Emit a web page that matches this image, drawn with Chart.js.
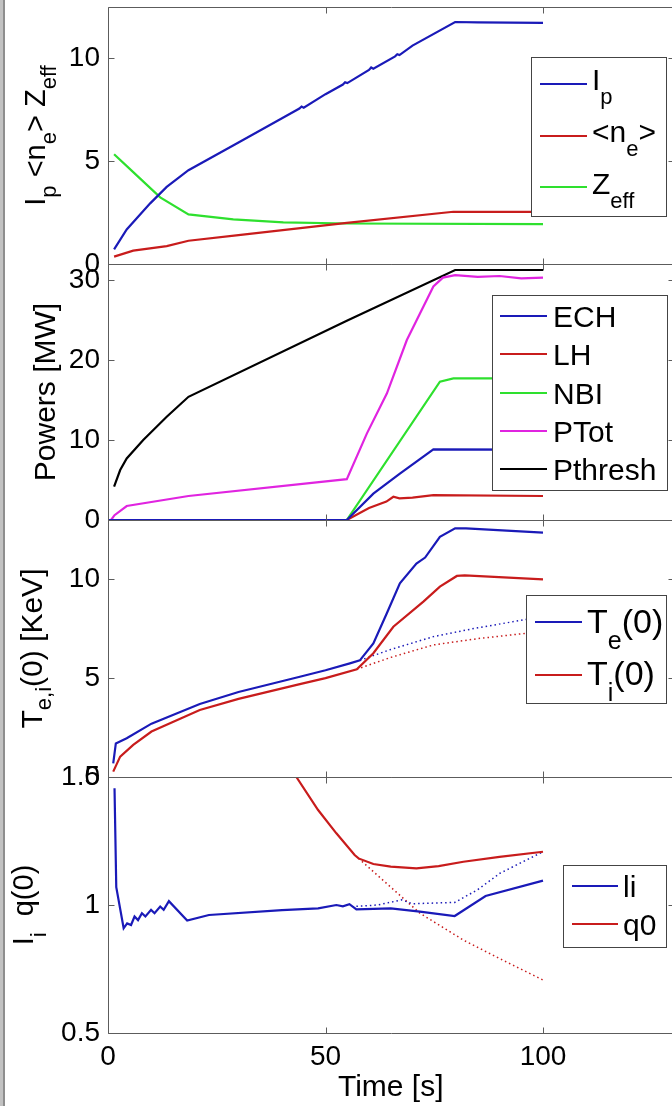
<!DOCTYPE html>
<html>
<head>
<meta charset="utf-8">
<script src="https://cdn.jsdelivr.net/npm/chart.js@4"></script>
<style>
  html, body { margin: 0; padding: 0; background: #fff; overflow: hidden; width: 672px; height: 1106px; }
  canvas { position: absolute; left: 0; top: 0; }
  #frame { position: absolute; left: 0; top: 0; width: 3px; height: 1106px; background: #c2c2c2; border-right: 2px solid #8e8e8e; z-index: 5; }
</style>
</head>
<body>
<div id="frame"></div>
<canvas id="p1" width="680" height="1106"></canvas>
<canvas id="p2" width="680" height="1106"></canvas>
<canvas id="p3" width="680" height="1106"></canvas>
<canvas id="p4" width="680" height="1106"></canvas>
<script>
// ---- data (time in s) ----
// panel 1: Ip, <ne>, Zeff
const ipT = [1.4, 4.3, 9.7, 13.5, 18.5, 30, 40, 44, 44.5, 45, 50, 54, 54.5, 55, 60, 60.5, 61, 66, 66.5, 67, 70, 79.8, 85, 100];
const ipV = [0.71, 1.68, 2.95, 3.75, 4.56, 5.91, 7.09, 7.56, 7.66, 7.6, 8.26, 8.73, 8.84, 8.8, 9.44, 9.56, 9.5, 10.1, 10.2, 10.16, 10.62, 11.77, 11.75, 11.73];
const neT = [1.4, 5.8, 13.5, 18.5, 30, 54.9, 79.4, 100];
const neV = [0.36, 0.65, 0.87, 1.13, 1.4, 2.0, 2.54, 2.54];
const zeffT = [1.4, 5.8, 12, 18.5, 28.8, 40.3, 54.9, 100];
const zeffV = [5.34, 4.47, 3.24, 2.41, 2.17, 2.02, 1.97, 1.94];

// panel 2: powers [MW]
const echT = [0, 54.9, 61, 67.1, 74.8, 100];
const echV = [0, 0, 3.3, 5.8, 8.83, 8.8];
const lhT = [0, 54.9, 60, 64, 65.6, 67, 70, 74.8, 100];
const lhV = [0, 0, 1.5, 2.3, 2.9, 2.7, 2.8, 3.1, 3.0];
const nbiT = [0, 54.9, 76.3, 79.4, 100];
const nbiV = [0, 0, 17.3, 17.7, 17.7];
const ptotT = [0.7, 1.5, 4.3, 18.5, 54.9, 59.5, 64.1, 68.7, 74.8, 77, 79.8, 85, 90, 95, 100];
const ptotV = [0, 0.6, 1.75, 3.0, 5.1, 10.8, 15.8, 22.5, 29.2, 30.3, 30.6, 30.4, 30.5, 30.2, 30.3];
const pthT = [1.4, 2.8, 4.3, 8.1, 13.5, 18.5, 54.9, 79.8, 100];
const pthV = [4.17, 6.25, 7.7, 10.0, 12.9, 15.4, 24.9, 31.25, 31.25];

// panel 3: Te(0), Ti(0) [keV], dotted = reference run
const teT = [1.2, 1.8, 4.3, 10, 21.1, 30, 44.1, 50, 55.6, 57.9, 61, 64.1, 67.1, 70.9, 72.9, 76.3, 79.8, 82.3, 100];
const teV = [0.69, 1.7, 1.96, 2.7, 3.69, 4.3, 5.07, 5.4, 5.75, 5.9, 6.76, 8.28, 9.8, 10.8, 11.1, 12.15, 12.58, 12.58, 12.36];
const tiT = [1.2, 2.8, 5.8, 10, 21.1, 30, 44.1, 50, 57.2, 61, 65.6, 72.5, 76.3, 80.2, 82, 100];
const tiV = [0.27, 1.03, 1.62, 2.3, 3.39, 3.95, 4.7, 5.0, 5.45, 6.26, 7.6, 8.87, 9.63, 10.17, 10.2, 10.0];
const teDotT = [57.9, 65, 74.8, 85, 96.2, 100];
const teDotV = [5.9, 6.45, 7.1, 7.55, 7.97, 8.1];
const tiDotT = [57.2, 65, 74.8, 85, 96.2, 100];
const tiDotV = [5.45, 6.05, 6.68, 7.0, 7.27, 7.35];

// panel 4: li, q0
const liT = [1.5, 1.9, 3.6, 4.4, 5.3, 6.1, 6.9, 7.8, 8.6, 9.9, 10.7, 12.0, 12.8, 14.0, 18.2, 23.2, 40, 48.3, 52.5, 54, 55.5, 57.1, 65, 71.7, 79.7, 86.8, 100];
const liV = [1.456, 1.07, 0.909, 0.928, 0.922, 0.955, 0.941, 0.968, 0.955, 0.981, 0.968, 0.994, 0.981, 1.015, 0.939, 0.961, 0.98, 0.987, 1.0, 0.995, 1.003, 0.983, 0.987, 0.974, 0.957, 1.035, 1.095];
const q0T = [30, 40, 43.3, 48.3, 52.5, 56.7, 57.6, 61, 65, 70.9, 76, 81.7, 90, 100];
const q0V = [1.8, 1.58, 1.5, 1.371, 1.28, 1.195, 1.182, 1.16, 1.15, 1.143, 1.152, 1.169, 1.188, 1.208];
const liDotT = [57.1, 62, 67.5, 70, 79.7, 85, 90.1, 100];
const liDotV = [0.995, 1.0, 1.02, 1.005, 1.01, 1.06, 1.124, 1.208];
const q0DotT = [57.6, 62, 67.5, 71.7, 81.7, 90.1, 100];
const q0DotV = [1.182, 1.115, 1.032, 0.968, 0.863, 0.79, 0.707];

const timeTicks = [0, 50, 100];

const BLUE = '#1a1ab8', RED = '#c81c1c', GREEN = '#2ee02e', MAGENTA = '#e024e0', BLACK = '#000';
const FONT = '"Liberation Sans", Arial, sans-serif';

function pts(t, v) { return t.map((x, i) => ({x: x, y: v[i]})); }

function line(label, t, v, color, dotted) {
  return {
    label: label,
    data: pts(t, v),
    borderColor: color,
    borderWidth: dotted ? 1.5 : 2.2,
    borderDash: dotted ? [1.5, 3] : [],
    pointRadius: 0,
    tension: 0,
    fill: false,
    clip: 0,
    inLegend: !dotted
  };
}

// "I_{p}" -> [{t:'I'},{t:'p',sub:true}]
function parseTex(s) {
  const parts = [];
  const re = /_\{([^}]*)\}/g;
  let last = 0, m;
  while ((m = re.exec(s))) {
    if (m.index > last) parts.push({t: s.slice(last, m.index), sub: false});
    parts.push({t: m[1], sub: true});
    last = re.lastIndex;
  }
  if (last < s.length) parts.push({t: s.slice(last), sub: false});
  return parts;
}

function richWidth(ctx, parts, size, subSize) {
  let w = 0;
  parts.forEach(p => {
    ctx.font = (p.sub ? subSize : size) + 'px ' + FONT;
    w += ctx.measureText(p.t).width;
  });
  return w;
}

function drawRich(ctx, parts, x, y, size, subSize, drop) {
  let cx = x;
  ctx.textBaseline = 'alphabetic';
  ctx.textAlign = 'left';
  parts.forEach(p => {
    ctx.font = (p.sub ? subSize : size) + 'px ' + FONT;
    ctx.fillText(p.t, cx, p.sub ? y + drop : y);
    cx += ctx.measureText(p.t).width;
  });
}

const decor = {
  id: 'decor',
  afterDraw(chart, args, opts) {
    const ctx = chart.ctx;
    const a = chart.chartArea;
    const xs = chart.scales.x, ys = chart.scales.y;
    const L = Math.round(a.left) + 0.5, R = Math.round(a.right) + 0.5;
    const T = Math.round(a.top) + 0.5, B = Math.round(a.bottom) + 0.5;
    ctx.save();
    ctx.strokeStyle = '#5c5c5c';
    ctx.lineWidth = 1;
    ctx.beginPath();
    ctx.rect(L, T, R - L, B - T);
    timeTicks.forEach(v => {
      const px = Math.round(xs.getPixelForValue(v)) + 0.5;
      ctx.moveTo(px, B); ctx.lineTo(px, B - 6);
      ctx.moveTo(px, T); ctx.lineTo(px, T + 6);
    });
    ys.ticks.forEach(tk => {
      const py = Math.round(ys.getPixelForValue(tk.value)) + 0.5;
      ctx.moveTo(L, py); ctx.lineTo(L + 6, py);
      ctx.moveTo(R, py); ctx.lineTo(R - 6, py);
    });
    ctx.stroke();

    // legend
    const lg = opts.legend;
    ctx.fillStyle = '#fff';
    ctx.fillRect(lg.x, lg.y, lg.w, lg.h);
    ctx.strokeStyle = '#444';
    ctx.strokeRect(lg.x + 0.5, lg.y + 0.5, lg.w, lg.h);
    chart.data.datasets.filter(d => d.inLegend).forEach((d, i) => {
      const y = lg.rows[i];
      ctx.strokeStyle = d.borderColor;
      ctx.lineWidth = 2;
      ctx.beginPath();
      ctx.moveTo(lg.x0, y); ctx.lineTo(lg.x1, y);
      ctx.stroke();
      ctx.fillStyle = '#000';
      drawRich(ctx, parseTex(d.label), lg.tx, y + lg.base[i], lg.size, lg.subSize, lg.drop);
    });

    // y title, rotated
    const yt = opts.ytitle;
    const parts = parseTex(yt.text);
    const w = richWidth(ctx, parts, yt.size, yt.subSize);
    ctx.translate(yt.x, yt.cy);
    ctx.rotate(-Math.PI / 2);
    ctx.fillStyle = '#000';
    drawRich(ctx, parts, -w / 2, 0, yt.size, yt.subSize, yt.drop);
    ctx.restore();
  }
};

function noPad(s) {
  s.paddingTop = 0; s.paddingBottom = 0; s.paddingLeft = 0; s.paddingRight = 0;
}

function makePanel(id, datasets, y, area, legend, ytitle, bottom) {
  const xScale = bottom ? {
    type: 'linear', min: 0, max: 130,
    grid: {display: false, drawTicks: false},
    border: {display: false},
    ticks: {stepSize: 50, includeBounds: false, padding: 7, color: '#000', font: {family: FONT, size: 28}, maxRotation: 0},
    title: {display: true, text: 'Time [s]', color: '#000', font: {family: FONT, size: 30}, padding: {top: 0, bottom: 0}},
    afterFit: s => { s.height = 1106 - area.bottom; noPad(s); }
  } : {type: 'linear', min: 0, max: 130, display: false};

  return new Chart(document.getElementById(id), {
    type: 'line',
    data: {datasets: datasets},
    options: {
      responsive: false,
      animation: false,
      devicePixelRatio: 1,
      parsing: false,
      events: [],
      layout: {padding: {left: 0, right: 6.5, top: area.top, bottom: bottom ? 0 : 1106 - area.bottom}},
      scales: {
        x: xScale,
        y: {
          type: 'linear', min: y.min, max: y.max,
          grid: {display: false, drawTicks: false},
          border: {display: false},
          ticks: {stepSize: y.step, includeBounds: false, padding: 8, color: '#000', font: {family: FONT, size: 28}, callback: v => String(v)},
          afterFit: s => { s.width = 108; noPad(s); }
        }
      },
      plugins: {
        legend: {display: false},
        tooltip: {enabled: false},
        decor: {legend: legend, ytitle: ytitle}
      }
    },
    plugins: [decor]
  });
}

makePanel('p1', [
  line('I_{p}', ipT, ipV, BLUE),
  line('<n_{e}>', neT, neV, RED),
  line('Z_{eff}', zeffT, zeffV, GREEN)
], {min: 0, max: 12.5, step: 5}, {top: 7, bottom: 264},
  {x: 531, y: 57, w: 135, h: 159, x0: 540, x1: 587, tx: 592, rows: [84, 136, 187], base: [6, 6, 7], size: 30, subSize: 22, drop: 14},
  {text: 'I_{p} <n_{e}> Z_{eff}', x: 45, cy: 135.5, size: 29, subSize: 22, drop: 11});

makePanel('p2', [
  line('ECH', echT, echV, BLUE),
  line('LH', lhT, lhV, RED),
  line('NBI', nbiT, nbiV, GREEN),
  line('PTot', ptotT, ptotV, MAGENTA),
  line('Pthresh', pthT, pthV, BLACK)
], {min: 0, max: 32, step: 10}, {top: 264, bottom: 520},
  {x: 492, y: 295, w: 175, h: 195, x0: 500, x1: 547, tx: 553, rows: [316, 354, 393, 431, 469], base: [11, 11, 11, 11, 11], size: 30, subSize: 22, drop: 14},
  {text: 'Powers [MW]', x: 55, cy: 392, size: 30, subSize: 22, drop: 11});

makePanel('p3', [
  line('T_{e}(0)', teT, teV, BLUE),
  line('T_{i}(0)', tiT, tiV, RED),
  line('Te ref', teDotT, teDotV, BLUE, true),
  line('Ti ref', tiDotT, tiDotV, RED, true)
], {min: 0, max: 13, step: 5}, {top: 520, bottom: 777},
  {x: 526, y: 595, w: 140, h: 108, x0: 535, x1: 582, tx: 587, rows: [622, 675], base: [11, 10], size: 34, subSize: 25, drop: 16},
  {text: 'T_{e,i}(0) [KeV]', x: 42, cy: 648.5, size: 30, subSize: 22, drop: 9});

makePanel('p4', [
  line('li', liT, liV, BLUE),
  line('q0', q0T, q0V, RED),
  line('li ref', liDotT, liDotV, BLUE, true),
  line('q0 ref', q0DotT, q0DotV, RED, true)
], {min: 0.5, max: 1.5, step: 0.5}, {top: 777, bottom: 1033},
  {x: 563, y: 865, w: 103, h: 82, x0: 572, x1: 618, tx: 623, rows: [886, 924], base: [11, 11], size: 30, subSize: 22, drop: 14},
  {text: 'I_{i}  q(0)', x: 33, cy: 905, size: 29, subSize: 22, drop: 13}, true);
</script>
</body>
</html>
